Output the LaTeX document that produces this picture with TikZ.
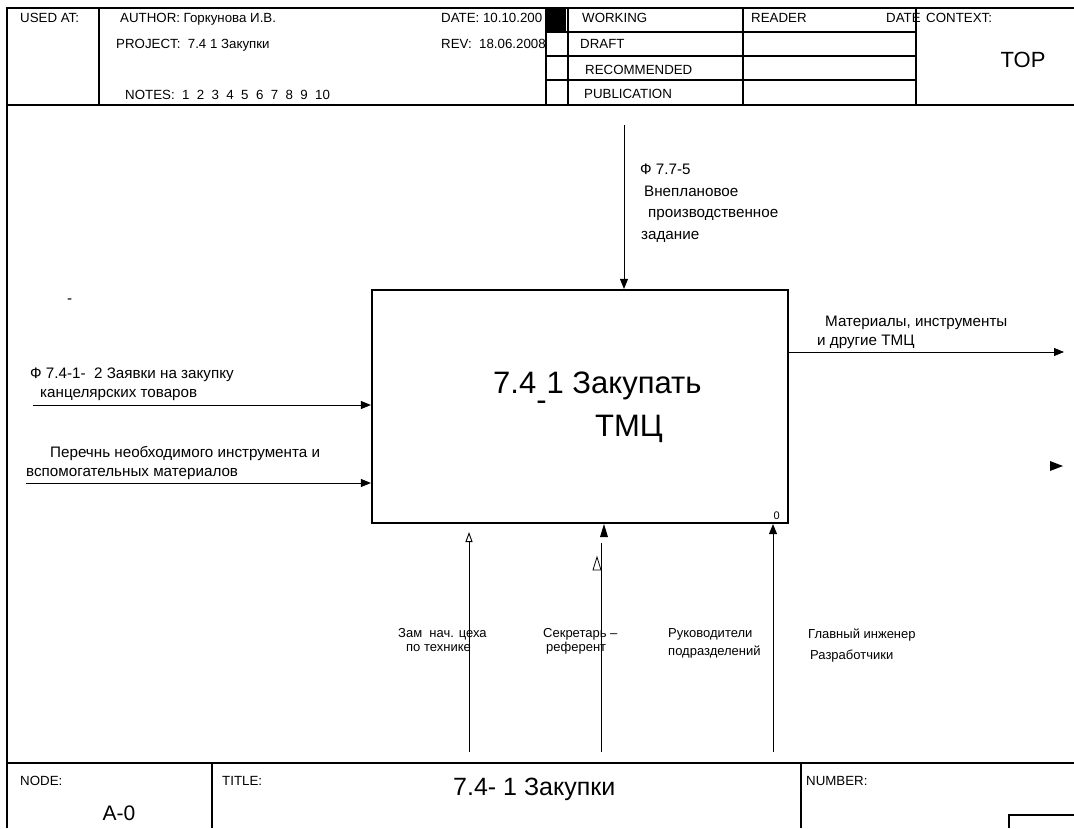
\documentclass[tikz,border=0pt]{standalone}
\usepackage{fontspec}
\setmainfont{Liberation Sans}
\usetikzlibrary{arrows.meta}

\begin{document}
\begin{tikzpicture}[x=1pt,y=-1pt]
    \tikzset{Frame/.style={line width=1.2pt},
        Conn/.style={line width=0.9pt,-{Triangle[length=10pt,width=8pt]}},
        ConnOpen/.style={line width=0.9pt,-{Triangle[open,length=10pt,width=7pt]}},
        Hdr/.style={anchor=base west,inner sep=0pt,font=\fontsize{13.3}{15}\selectfont},
        Lbl/.style={anchor=base west,inner sep=0pt,align=left,font=\fontsize{15.2}{19}\selectfont},
        Mech/.style={anchor=base west,inner sep=0pt,align=left,font=\fontsize{13}{14}\selectfont},
        Func/.style={draw,line width=2.2pt,minimum width=416pt,minimum height=233pt,inner sep=0pt},
    }
    \useasboundingbox (0,0) rectangle (1074,828);

    % form
    \draw[Frame] (1074,8) -- (7,8) -- (7,828);
    \draw[Frame] (7,105) -- (1074,105);
    \draw[Frame] (7,763) -- (1074,763);
    \foreach \xx in {99,546,568,743,916}
        \draw[Frame] (\xx,8) -- (\xx,105);
    \foreach \yy in {32,56,80}
        \draw[Frame] (546,\yy) -- (916,\yy);
    \foreach \xx in {212,801}
        \draw[Frame] (\xx,763) -- (\xx,828);
    \draw[Frame] (1009,828) -- (1009,815) -- (1074,815);
    \fill (546,8) rectangle (566,31);

    \node[Hdr] (usedat) at (20,22) {USED AT:};
    \node[Hdr] (author) at (120,22) {AUTHOR:\ Горкунова И.В.};
    \node[Hdr] (project) at (116,48) {PROJECT:\ \ 7.4 1 Закупки};
    \node[Hdr] (notes) at (125,99) {NOTES:\ \ 1\ \ 2\ \ 3\ \ 4\ \ 5\ \ 6\ \ 7\ \ 8\ \ 9\ \ 10};
    \node[Hdr] (date) at (441,22) {DATE:\ 10.10.200};
    \node[Hdr] (rev) at (441,48) {REV:\ \ 18.06.2008};
    \node[Hdr] (working) at (582,22) {WORKING};
    \node[Hdr] (draft) at (580,48) {DRAFT};
    \node[Hdr] (recommended) at (585,74) {RECOMMENDED};
    \node[Hdr] (publication) at (584,98) {PUBLICATION};
    \node[Hdr] (reader) at (751,22) {READER};
    \node[Hdr] (rdate) at (886,22) {DATE};
    \node[Hdr] (context) at (926,22) {CONTEXT:};
    \node[anchor=base,inner sep=0pt,font=\fontsize{22}{26}\selectfont] (top) at (1023,67) {TOP};

    \node[Hdr] (nodelbl) at (20,785) {NODE:};
    \node[Hdr] (titlelbl) at (222,785) {TITLE:};
    \node[Hdr] (numberlbl) at (806,785) {NUMBER:};
    \node[anchor=base,inner sep=0pt,font=\fontsize{21}{25}\selectfont] (nodeid) at (119,820) {A-0};
    \node[anchor=base west,inner sep=0pt,font=\fontsize{25}{28}\selectfont] (title) at (453,795) {7.4- 1 Закупки};

    % activity
    \node[Func] (act) at (580,406.5) {};
    \node[anchor=base west,inner sep=0pt,align=left,font=\fontsize{31}{43}\selectfont] (acttitle) at (493,436)
        {7.4\raisebox{-0.55em}{-}1 Закупать\\\hspace*{102pt}ТМЦ};
    \node[anchor=base east,inner sep=0pt,font=\fontsize{11}{13}\selectfont] (actnum) at (780,519) {0};

    % control
    \coordinate (ctrl) at (624,125);
    \draw[Conn] (ctrl) -- (ctrl |- act.north);
    \node[Lbl,font=\fontsize{15.2}{21.5}\selectfont] (ctrllbl) at (640,239)
        {Ф 7.7-5\\\hspace*{4pt}Внеплановое\\\hspace*{8pt}производственное\\\hspace*{1pt}задание};

    % inputs
    \coordinate (in1) at (33,405);
    \coordinate (in2) at (26,483);
    \draw[Conn] (in1) -- (in1 -| act.west);
    \draw[Conn] (in2) -- (in2 -| act.west);
    \node[Lbl] (in1lbl) at (30,397) {Ф 7.4-1-\ \ 2 Заявки на закупку\\\hspace*{10pt}канцелярских товаров};
    \node[Lbl] (in2lbl) at (26,476) {\hspace*{24pt}Перечнь необходимого инструмента и\\вспомогательных материалов};
    \node[Lbl] (dash) at (67,303) {-};

    % outputs
    \coordinate (out1) at (1064,352);
    \draw[Conn] (out1 -| act.east) -- (out1);
    \node[Lbl] (out1lbl) at (817,345) {\hspace*{8pt}Материалы, инструменты\\и другие ТМЦ};
    \fill (1050,461) -- (1063,466) -- (1050,471) -- cycle;

    % mechanisms
    \coordinate (mech1) at (469,752);
    \coordinate (mech2) at (601,752);
    \coordinate (mech3) at (773,752);
    \draw[ConnOpen] (mech1) -- ++(0,-220);
    \draw[line width=0.9pt] (mech2) -- ++(0,-209);
    \draw[line width=0.8pt] (597,557) -- (601,570) -- (593,570) -- cycle;
    \fill (600,537) -- (604,524) -- (608,537) -- cycle;
    \draw[Conn] (mech3) -- (mech3 |- act.south);
    \node[Mech] (mech1lbl) at (398,651) {Зам\ \ нач. цеха\\\hspace*{8pt}по технике};
    \node[Mech] (mech2lbl) at (543,651) {Секретарь –\\\hspace*{3pt}референт};
    \node[Mech,font=\fontsize{13}{18}\selectfont] (mech3lbl) at (668,655) {Руководители\\подразделений};
    \node[Mech,font=\fontsize{13}{21}\selectfont] (mech4lbl) at (808,659) {Главный инженер\\\hspace*{2pt}Разработчики};
\end{tikzpicture}
\end{document}
